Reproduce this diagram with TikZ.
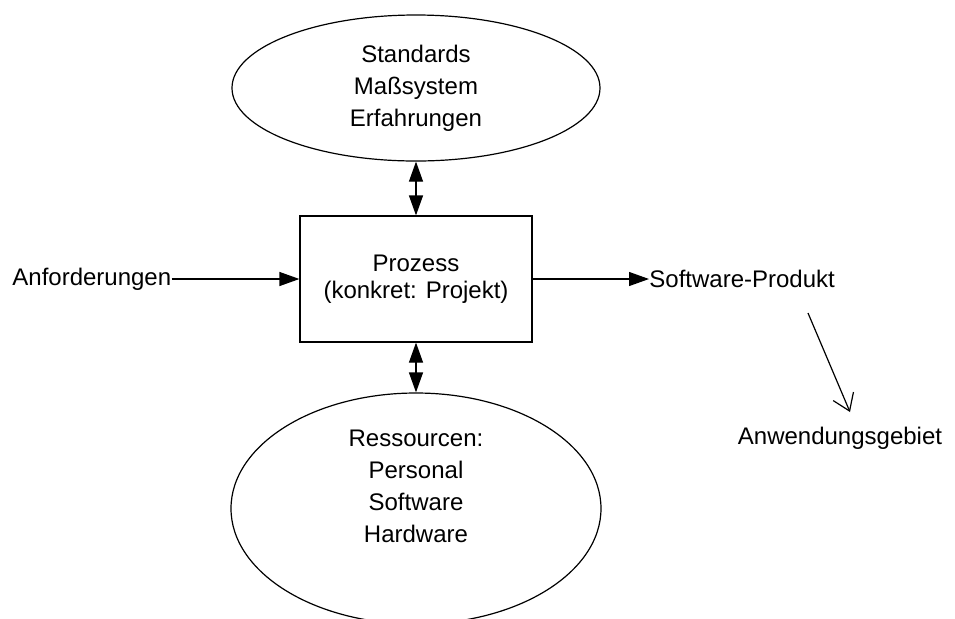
\documentclass[tikz,border=0pt]{standalone}
\usepackage{fontspec}
\setmainfont{Liberation Sans}
\usetikzlibrary{shapes.geometric,arrows.meta}
\begin{document}
\begin{tikzpicture}[x=0.5pt,y=-0.5pt,
  every node/.style={font=\fontsize{12}{16}\selectfont, align=center},
  bubble/.style={ellipse, draw, line width=0.6pt, inner sep=0pt},
  procbox/.style={rectangle, draw, line width=0.6pt, minimum width=116pt, minimum height=63pt, inner sep=0pt},
  label/.style={inner sep=0pt},
  flow/.style={line width=0.6pt, -{Triangle[length=10pt,width=7pt]}},
  both/.style={line width=0.6pt, {Triangle[length=10pt,width=7pt]}-{Triangle[length=10pt,width=7pt]}},
  open/.style={line width=0.6pt, -{Straight Barb[length=8pt,width=11pt]}}]
  \useasboundingbox (0,0) rectangle (955,618);

  % knowledge base above, resources below, process in the middle
  \node[bubble, minimum width=184pt, minimum height=73pt] (std) at (416,88)
    {Standards\\Maßsystem\\Erfahrungen};
  \node[procbox, font=\fontsize{12}{13.5}\selectfont] (proc) at (416,279)
    {Prozess\\(konkret: Projekt)};
  \node[bubble, minimum width=185pt, minimum height=115.5pt] (res) at (416,508.5) {};
  \node[label] (restext) at (416,486)
    {Ressourcen:\\Personal\\Software\\Hardware};

  % input and output
  \node[label, anchor=west] (req) at (12,279) {Anforderungen};
  \node[label, anchor=west] (prod) at (649,279) {Software-Produkt};
  \node[label] (app) at (840,438) {Anwendungsgebiet};
  \coordinate (use0) at (808,313);
  \coordinate (use1) at (850,412);

  \draw[both] (std) -- (proc);
  \draw[both] (proc) -- (res);
  \draw[flow] (req) -- (proc);
  \draw[flow] (proc) -- (prod);
  \draw[open] (use0) -- (use1);
\end{tikzpicture}
\end{document}
